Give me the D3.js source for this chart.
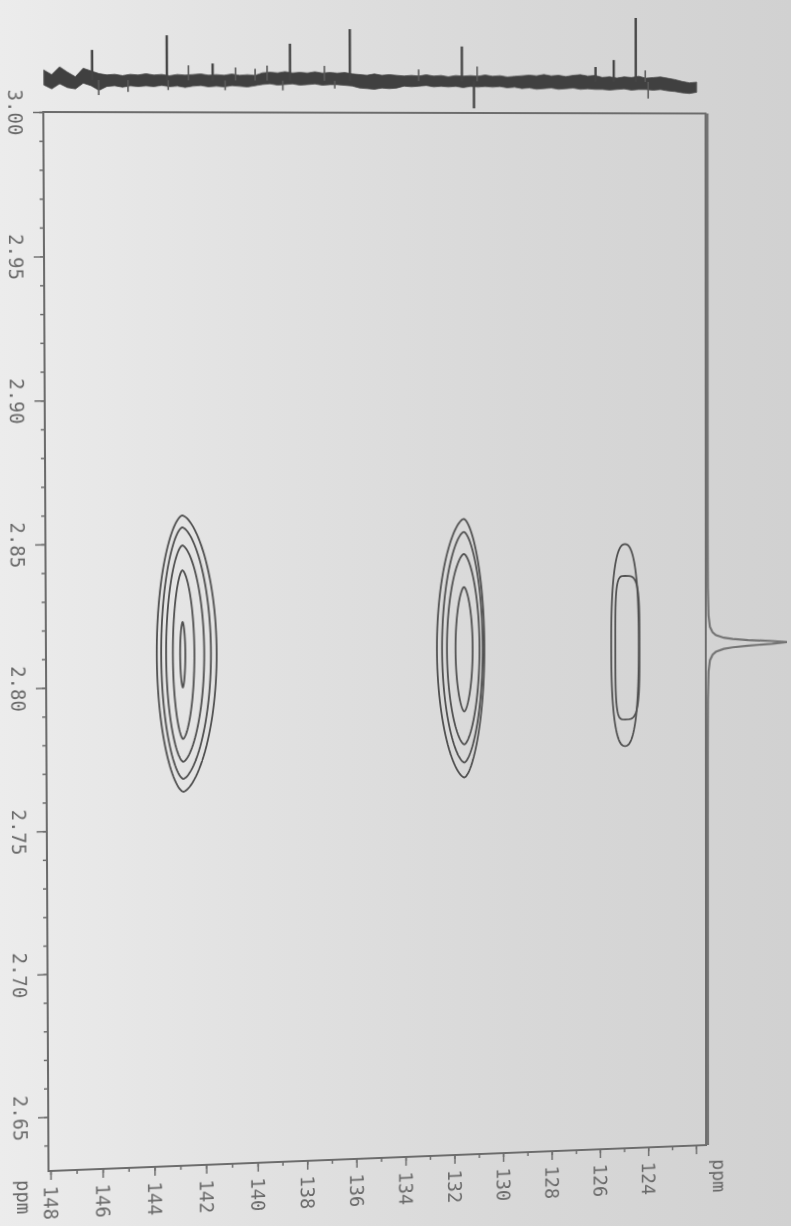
<!DOCTYPE html>
<html>
<head>
<meta charset="utf-8">
<script src="https://cdn.jsdelivr.net/npm/d3@7"></script>
<style>
  html, body { margin: 0; padding: 0; }
  body {
    width: 791px; height: 1226px; overflow: hidden;
    background: linear-gradient(90deg, #ececec 0%, #e2e2e2 30%, #d8d8d8 65%, #d1d1d1 100%);
  }
  #sheet { position: absolute; left: 0; top: 0; width: 791px; height: 1226px; transform-origin: 0 0; }
  svg { display: block; }
</style>
</head>
<body>
<div id="sheet"></div>
<script>
// ---------- axis ticks ----------
const hMajorTicks = [3.00, 2.95, 2.90, 2.85, 2.80, 2.75, 2.70, 2.65];
const cMajorTicks = [148, 146, 144, 142, 140, 138, 136, 134, 132, 130, 128, 126, 124, 122];
const cLabelledTicks = [148, 146, 144, 142, 140, 138, 136, 134, 132, 130, 128, 126, 124];

// ---------- 1H projection (right) : [ppm, relative intensity] ----------
const protonTrace = [
  [3.000, 0], [2.851, 0], [2.831, 0.0025], [2.821, 0.01], [2.817, 0.027], [2.815, 0.06],
  [2.814, 0.10], [2.813, 0.20], [2.8125, 0.31], [2.812, 0.50], [2.8115, 0.80], [2.811, 1.00],
  [2.8105, 0.80], [2.810, 0.50], [2.8095, 0.31], [2.809, 0.20], [2.808, 0.10], [2.807, 0.06],
  [2.805, 0.027], [2.801, 0.01], [2.791, 0.0025], [2.771, 0], [2.631, 0]
];

// ---------- 13C projection (top) ----------
const carbonGrid = d3.range(148.05, 121.7, -0.3);   // 88 sampled positions, ppm
const noiseUpper = [
  15, 8, 20, 12, 5, 18, 14, 10,
  8, 9, 7, 9, 8, 10, 8, 9, 7, 9,
  8, 9, 10, 8, 9, 8, 10, 8, 9, 8,
  12, 13, 12, 14, 12, 13, 12, 14, 12, 13,
  12, 13, 11, 10, 9, 11, 9, 10, 9, 8,
  9, 8, 10, 8, 9, 7, 9, 8, 9, 8,
  10, 8, 9, 7, 8, 9, 10, 9, 11, 9,
  10, 8, 10, 11, 9, 10, 7, 8, 6, 8,
  7, 9, 6, 7, 8, 6, 4, 1, -1, 0
];
const noiseLower = [
  -8, -14, -6, -12, -14, -5, -9, -16,
  -10, -9, -11, -9, -10, -9, -10, -8, -10, -9,
  -11, -9, -8, -10, -9, -10, -8, -9, -10, -8,
  -6, -5, -7, -6, -5, -7, -6, -5, -7, -6,
  -6, -7, -8, -11, -12, -13, -11, -12, -11, -8,
  -9, -8, -7, -9, -8, -9, -8, -10, -8, -9,
  -8, -9, -8, -10, -9, -11, -10, -12, -11, -10,
  -12, -11, -10, -12, -11, -12, -12, -13, -12, -11,
  -13, -12, -12, -13, -12, -14, -15, -17, -18, -16
];
// resolved carbon lines [ppm, height]
const carbonLines = [
  [146.21, 46], [143.35, 69], [141.59, 26], [138.55, 57], [136.14, 80],
  [131.60, 54], [131.11, -42], [126.13, 23], [125.38, 34], [124.47, 100]
];
// small noise spikes [ppm, height]
const carbonSpikes = [
  [142.52, 23], [140.71, 20], [139.95, 18], [139.47, 23], [137.17, 23], [133.36, 18],
  [130.98, 23], [124.08, 18], [145.96, -23], [144.84, -18], [141.11, -15], [138.84, -15],
  [136.75, -12], [123.96, -26], [143.30, -15]
];

// ---------- HMBC cross peaks ----------
const protonShift = 2.811;
const carbonShifts = [142.83, 131.56, 124.94];
// contour half-extents in ppm: left = towards higher 13C ppm, up = towards higher 1H ppm
const peak1Levels = [
  { left: 1.00, right: 1.31, up: 0.0484, down: 0.0484 },
  { left: 0.83, right: 1.09, up: 0.0442, down: 0.0439 },
  { left: 0.64, right: 0.83, up: 0.0379, down: 0.0379 },
  { left: 0.38, right: 0.45, up: 0.0292, down: 0.0299 },
  { left: 0.10, right: 0.10, up: 0.0111, down: 0.0118 }
];
const peak2Levels = [
  { left: 1.11, right: 0.83, up: 0.0458, down: 0.0458 },
  { left: 0.90, right: 0.76, up: 0.0412, down: 0.0405 },
  { left: 0.70, right: 0.63, up: 0.0334, down: 0.0341 },
  { left: 0.35, right: 0.35, up: 0.0217, down: 0.0224 }
];
const peak3Levels = [
  { left: 0.57, right: 0.57, up: 0.0360, down: 0.0360 },
  { left: 0.40, right: 0.60, up: 0.0247, down: 0.0265 }
];

// ---------- drawing ----------
const W = 791, H = 1226;
const frame = { left: 45, right: 707, top: 112, bottom: 1172 };

const x = d3.scaleLinear().domain([148, 140, 130, 122]).range([46.95, 251.85, 499.0, 696.7]);
const y = d3.scaleLinear().domain([3.0, 2.631]).range([frame.top, frame.bottom]);
const yTop = d3.scaleLinear().domain([0, 100]).range([80, 15]);
const xProton = d3.scaleLinear().domain([0, 1]).range([709, 792]);

const svg = d3.select("#sheet").append("svg").attr("width", W).attr("height", H);

const ink = "#505050", frameInk = "#6c6c6c", textInk = "#686868";
const font = "'DejaVu Sans Mono', 'Liberation Mono', monospace";

// plot frame
svg.append("rect")
  .attr("x", frame.left).attr("y", frame.top)
  .attr("width", frame.right - frame.left).attr("height", frame.bottom - frame.top)
  .attr("fill", "none").attr("stroke", frameInk).attr("stroke-width", 2);

// left (1H) axis
const hMinor = d3.range(2.64, 3.0001, 0.01);
svg.append("g").attr("transform", `translate(${frame.left},0)`)
  .call(d3.axisLeft(y).tickValues(hMinor).tickSize(4).tickSizeOuter(0).tickFormat(""))
  .call(g => g.select(".domain").remove())
  .call(g => g.selectAll("line").attr("stroke", frameInk).attr("stroke-width", 1.5));

const leftAxis = svg.append("g").attr("transform", `translate(${frame.left},0)`)
  .call(d3.axisLeft(y).tickValues(hMajorTicks).tickSize(10).tickSizeOuter(0).tickFormat(d3.format(".2f")));
leftAxis.select(".domain").remove();
leftAxis.selectAll("line").attr("stroke", frameInk).attr("stroke-width", 1.5);
leftAxis.selectAll("text")
  .attr("transform", "rotate(90)").attr("x", 0).attr("y", 34).attr("dy", null)
  .attr("text-anchor", "middle").attr("fill", textInk)
  .style("font-family", font).style("font-size", "19px");

// bottom (13C) axis
const cMinor = d3.range(148, 121.5, -1);
svg.append("g").attr("transform", `translate(0,${frame.bottom})`)
  .call(d3.axisBottom(x).tickValues(cMinor).tickSize(4).tickSizeOuter(0).tickFormat(""))
  .call(g => g.select(".domain").remove())
  .call(g => g.selectAll("line").attr("stroke", frameInk).attr("stroke-width", 1.5));

const bottomAxis = svg.append("g").attr("transform", `translate(0,${frame.bottom})`)
  .call(d3.axisBottom(x).tickValues(cMajorTicks).tickSize(9).tickSizeOuter(0)
    .tickFormat(d => cLabelledTicks.includes(d) ? String(d) : ""));
bottomAxis.select(".domain").remove();
bottomAxis.selectAll("line").attr("stroke", frameInk).attr("stroke-width", 1.5);
bottomAxis.selectAll("text")
  .attr("transform", "rotate(90)").attr("x", 15).attr("y", 7).attr("dy", null)
  .attr("text-anchor", "start").attr("fill", textInk)
  .style("font-family", font).style("font-size", "19px");

// axis units
svg.append("text").attr("transform", "translate(14,1180) rotate(90)")
  .attr("fill", textInk).style("font-family", font).style("font-size", "19px").text("ppm");
svg.append("text").attr("transform", `translate(${frame.right + 7},1187) rotate(90)`)
  .attr("fill", textInk).style("font-family", font).style("font-size", "19px").text("ppm");

// 13C projection: noise band
const band = carbonGrid.map((p, i) => ({ p, hi: noiseUpper[i], lo: noiseLower[i] }));
svg.append("path").datum(band)
  .attr("d", d3.area().x(d => x(d.p)).y0(d => yTop(d.lo)).y1(d => yTop(d.hi)))
  .attr("fill", "#404040").attr("stroke", "#555").attr("stroke-width", 0.8);

const spikeLine = d3.line().x(d => x(d[0])).y(d => yTop(d[1]));
svg.append("g").selectAll("path").data(carbonSpikes).join("path")
  .attr("d", d => spikeLine([[d[0], 0], d]))
  .attr("stroke", "#5a5a5a").attr("stroke-width", 1.6).attr("fill", "none");
svg.append("g").selectAll("path").data(carbonLines).join("path")
  .attr("d", d => spikeLine([[d[0], 0], d]))
  .attr("stroke", "#444").attr("stroke-width", 2.4).attr("fill", "none");

// 1H projection along the right edge
svg.append("path").datum(protonTrace)
  .attr("d", d3.line().x(d => xProton(d[1])).y(d => y(d[0])))
  .attr("fill", "none").attr("stroke", "#747474").attr("stroke-width", 2.2);

// contour outlines
function outline(cc, level, n, pw) {
  const N = 60, pts = [];
  const f = s => Math.pow(Math.max(0, 1 - Math.pow(Math.abs(s), n)), pw);
  for (let k = 0; k <= N; k++) {
    const s = Math.sin(-Math.PI / 2 + Math.PI * k / N);
    const dh = s < 0 ? -s * level.up : -s * level.down;
    pts.push([cc - level.right * f(s), protonShift + dh]);
  }
  for (let k = N - 1; k > 0; k--) {
    const s = Math.sin(-Math.PI / 2 + Math.PI * k / N);
    const dh = s < 0 ? -s * level.up : -s * level.down;
    pts.push([cc + level.left * f(s), protonShift + dh]);
  }
  return pts;
}
const contourLine = d3.line().x(d => x(d[0])).y(d => y(d[1])).curve(d3.curveLinearClosed);
const peakSets = [peak1Levels, peak2Levels, peak3Levels];
const exponents = [[[2, 0.62]], [[2, 0.62]], [[2.5, 0.42], [4, 0.25]]];
const cg = svg.append("g");
peakSets.forEach((levels, i) => {
  levels.forEach((lv, j) => {
    const e = exponents[i][Math.min(j, exponents[i].length - 1)];
    cg.append("path")
      .attr("d", contourLine(outline(carbonShifts[i], lv, e[0], e[1])))
      .attr("fill", "none").attr("stroke", ink).attr("stroke-width", 1.8);
  });
});

// ---------- page perspective ----------
function homography(src, dst) {
  const A = [], b = [];
  for (let i = 0; i < 4; i++) {
    const [sx, sy] = src[i], [dx, dy] = dst[i];
    A.push([sx, sy, 1, 0, 0, 0, -sx * dx, -sy * dx]); b.push(dx);
    A.push([0, 0, 0, sx, sy, 1, -sx * dy, -sy * dy]); b.push(dy);
  }
  for (let c = 0; c < 8; c++) {
    let p = c;
    for (let r = c + 1; r < 8; r++) if (Math.abs(A[r][c]) > Math.abs(A[p][c])) p = r;
    [A[c], A[p]] = [A[p], A[c]]; [b[c], b[p]] = [b[p], b[c]];
    for (let r = 0; r < 8; r++) {
      if (r === c) continue;
      const m = A[r][c] / A[c][c];
      for (let k = c; k < 8; k++) A[r][k] -= m * A[c][k];
      b[r] -= m * b[c];
    }
  }
  return b.map((v, i) => v / A[i][i]);
}
const [a, bb, c, d, e, f, g, h] = homography(
  [[frame.left, frame.top], [frame.right, frame.top], [frame.right, frame.bottom], [frame.left, frame.bottom]],
  [[43.3, 112], [705.5, 113.5], [706, 1145], [48.5, 1171]]
);
d3.select("#sheet").style("transform",
  `matrix3d(${a},${d},0,${g},${bb},${e},0,${h},0,0,1,0,${c},${f},0,1)`);
</script>
</body>
</html>
